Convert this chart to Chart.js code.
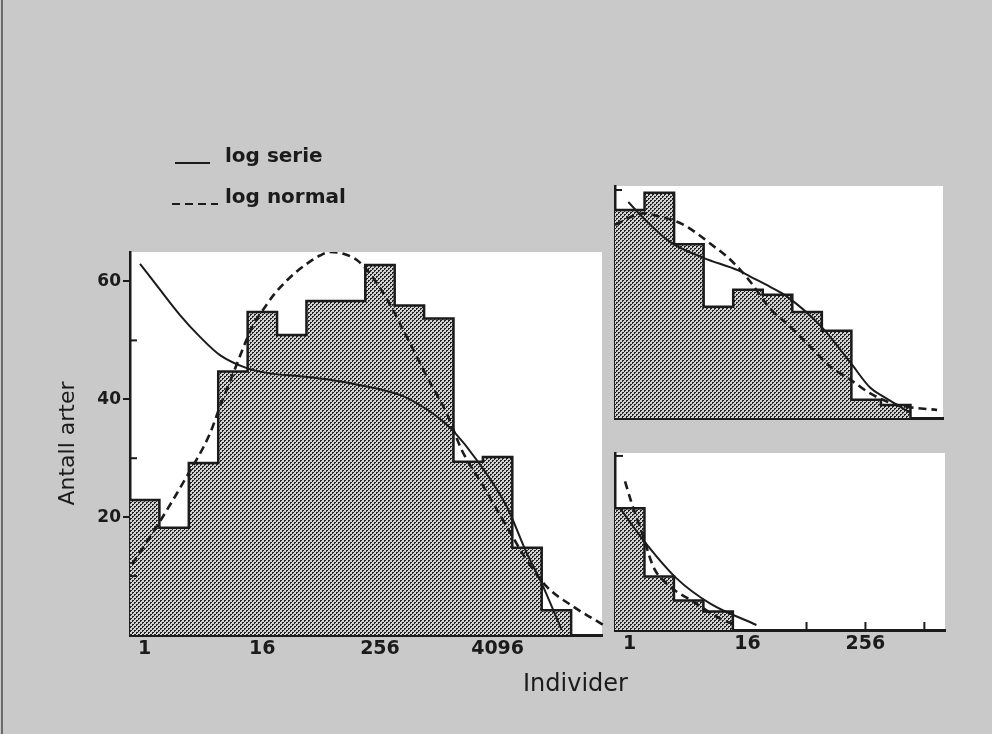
<!DOCTYPE html>
<html>
<head>
<meta charset="utf-8">
<script src="https://cdn.jsdelivr.net/npm/chart.js@4.4.1/dist/chart.umd.min.js"></script>
<style>
  html, body { margin: 0; padding: 0; width: 992px; height: 734px; overflow: hidden; background: #c9c9c9; }
  #wrap { position: relative; width: 992px; height: 734px; }
  canvas { position: absolute; }
  #edge { position: absolute; left: 1px; top: 0; width: 2px; height: 734px; background: #6a6a6a; }
</style>
</head>
<body>
<div id="wrap">
  <div id="edge"></div>
  <canvas id="main" width="992" height="734" style="left:0;top:0"></canvas>
  <canvas id="topRight" width="432" height="300" style="left:560px;top:150px"></canvas>
  <canvas id="bottomRight" width="432" height="304" style="left:560px;top:430px"></canvas>
</div>
<script>
// ---------------- DATA ----------------
// Octave classes (log2 of number of individuals); bin i covers [i, i+1)
const mainBins = [22.9, 18.2, 29.2, 44.7, 54.8, 50.9, 56.7, 56.7, 62.8, 55.9, 53.7, 29.4, 30.2, 14.8, 4.2];
const mainSerieX = [0.34, 1.02, 1.7, 2.38, 3.06, 3.97, 4.76, 5.78, 6.8, 7.82, 8.5, 9.2, 9.8, 10.3, 10.7, 11.0, 11.79, 12.81, 13.49, 13.95, 14.68];
const mainSerieY = [63, 58.6, 54.3, 50.6, 47.5, 45.3, 44.4, 43.9, 43.3, 42.4, 41.7, 40.7, 39.2, 37.6, 36.0, 34.6, 29.7, 21.8, 13.9, 9.3, 0.85];
const mainNormX = [0.07, 0.92, 1.94, 2.72, 3.06, 3.4, 3.98, 4.19, 4.61, 4.9, 5.3, 5.67, 6.07, 6.46, 6.8, 7.26, 7.82, 8.62, 9.41, 10.09, 10.77, 11.28, 12.02, 12.81, 13.49, 14.17, 15.08, 16.2];
const mainNormY = [12, 18.5, 27, 34.2, 38.8, 43, 50.3, 52.6, 55.8, 57.8, 60.0, 61.7, 63.2, 64.4, 65.0, 64.7, 63.2, 58, 50.6, 43.9, 37.6, 31.4, 25.2, 18.4, 12.7, 8.2, 4.8, 1.4];

const topBins = [36.5, 39.5, 30.5, 19.5, 22.5, 21.6, 18.6, 15.3, 3.2, 2.3];
const topSerieX = [0.45, 0.92, 1.86, 2.99, 4.17, 4.58, 5.25, 5.82, 6.95, 7.97, 8.64, 9.1, 10.0];
const topSerieY = [37.9, 35.3, 30.9, 28.1, 25.9, 24.8, 23, 21.3, 16.2, 9.7, 5.3, 3.7, 0.9];
const topNormX = [0, 0.96, 1.3, 2.2, 2.77, 3.22, 3.79, 4.24, 4.58, 5.25, 5.93, 6.61, 7.29, 7.97, 8.64, 9.55, 10.9];
const topNormY = [33.9, 35.9, 35.6, 34.2, 32.4, 30.6, 28.3, 26, 23.9, 19.2, 16, 12.5, 9, 6.7, 4.3, 2.3, 1.4];

const botBins = [21.0, 9.2, 5.1, 3.2];
const botSerieX = [0.17, 0.96, 2.09, 3.22, 4.8];
const botSerieY = [21, 15.5, 8.9, 4.6, 0.86];
const botNormX = [0.34, 0.57, 0.96, 1.3, 1.75, 2.65, 3.67, 4.12];
const botNormY = [25.6, 21.8, 16.1, 10.9, 8.0, 4.9, 1.7, 0.9];

// Tick labels (placed at class centres)
const mainXTickPos = [0.5, 4.5, 8.5, 12.5];
const mainXTickLabels = ['1', '16', '256', '4096'];
const mainYTicks = [20, 40, 60];
const mainMinorYTicks = [10, 30, 50];
const botXTickPos = [0.5, 4.5, 8.5];
const botXTickLabels = ['1', '16', '256'];
const botInnerXTicks = [6.5, 8.5, 10.5];
const topInnerYTicks = [40];
const botInnerYTicks = [30];

const xTitle = 'Individer';
const yTitle = 'Antall arter';
const serieLabel = 'log serie';
const normalLabel = 'log normal';

// ---------------- HELPERS ----------------
const INK = '#1b1b1b';
const FONT = '"DejaVu Sans", "Liberation Sans", sans-serif';

function stipple() {
  const c = document.createElement('canvas');
  c.width = 4; c.height = 4;
  const g = c.getContext('2d');
  g.fillStyle = '#d2d2d2'; g.fillRect(0, 0, 4, 4);
  g.fillStyle = '#232323';
  g.fillRect(0, 0, 2, 1); g.fillRect(0, 1, 1, 1);
  g.fillRect(2, 2, 2, 1); g.fillRect(2, 3, 1, 1);
  return g.createPattern(c, 'repeat');
}
function steps(bins) {
  const pts = bins.map((v, i) => ({ x: i, y: v }));
  pts.push({ x: bins.length, y: 0 });
  return pts;
}
function xy(xs, ys) { return xs.map((x, i) => ({ x: x, y: ys[i] })); }

function datasets(bins, sx, sy, nx, ny, lw) {
  return [
    { label: 'Antall arter', data: steps(bins), stepped: true, fill: 'origin',
      backgroundColor: stipple(), borderColor: INK, borderWidth: lw, pointRadius: 0, order: 3 },
    { label: serieLabel, data: xy(sx, sy), borderColor: INK, borderWidth: 2, pointRadius: 0,
      cubicInterpolationMode: 'monotone', fill: false, order: 1 },
    { label: normalLabel, data: xy(nx, ny), borderColor: INK, borderWidth: 2.6, borderDash: [8, 5],
      pointRadius: 0, cubicInterpolationMode: 'monotone', fill: false, order: 2,
      clip: { left: 0, top: 0, right: 6, bottom: 0 } }
  ];
}

const whiteArea = {
  id: 'whiteArea',
  beforeDraw(chart) {
    const { ctx, chartArea: a } = chart;
    ctx.save();
    ctx.fillStyle = '#ffffff';
    ctx.fillRect(a.left, a.top, a.right - a.left, a.bottom - a.top);
    ctx.restore();
  }
};
const innerTicks = {
  id: 'innerTicks',
  afterDraw(chart, args, o) {
    const { ctx, chartArea: a, scales } = chart;
    ctx.save();
    ctx.strokeStyle = INK; ctx.lineWidth = 2;
    (o.x || []).forEach(v => {
      const px = scales.x.getPixelForValue(v);
      ctx.beginPath(); ctx.moveTo(px, a.bottom); ctx.lineTo(px, a.bottom - o.len); ctx.stroke();
    });
    (o.y || []).forEach(v => {
      const py = scales.y.getPixelForValue(v);
      ctx.beginPath(); ctx.moveTo(a.left, py); ctx.lineTo(a.left + o.len, py); ctx.stroke();
    });
    ctx.restore();
  }
};
const pageText = {
  id: 'pageText',
  afterDraw(chart, args, o) {
    const ctx = chart.ctx;
    ctx.save();
    ctx.fillStyle = INK; ctx.strokeStyle = INK;
    ctx.textBaseline = 'alphabetic';
    ctx.font = 'bold 20px ' + FONT;
    [1, 2].forEach((di, i) => {
      const ds = chart.data.datasets[di];
      const y = o.legendY[i];
      ctx.lineWidth = 2;
      ctx.setLineDash(ds.borderDash || []);
      ctx.beginPath(); ctx.moveTo(o.lineX0[i], y + 1); ctx.lineTo(o.lineX1[i], y + 1); ctx.stroke();
      ctx.setLineDash([]);
      ctx.fillText(ds.label, o.textX, y);
    });
    ctx.font = '24px ' + FONT;
    ctx.fillText(xTitle, o.xTitleX, o.xTitleY);
    ctx.restore();
  }
};

const tickFont = { family: FONT, weight: 'bold', size: 19 };

// ---------------- MAIN CHART ----------------
new Chart(document.getElementById('main'), {
  type: 'line',
  data: { datasets: datasets(mainBins, mainSerieX, mainSerieY, mainNormX, mainNormY, 2.5) },
  options: {
    responsive: false, animation: false,
    layout: { padding: { left: 55, top: 252, right: 390, bottom: 59 } },
    plugins: {
      legend: { display: false }, tooltip: { enabled: false },
      innerTicks: { len: 7, y: mainMinorYTicks },
      pageText: { legendY: [162, 203], lineX0: [175, 172], lineX1: [210, 218], textX: 225, xTitleX: 523, xTitleY: 691 }
    },
    scales: {
      x: {
        type: 'linear', min: 0, max: 16.05, z: 1,
        afterBuildTicks: s => { s.ticks = mainXTickPos.map(v => ({ value: v })); },
        afterFit: s => { s.height = 40; },
        ticks: { callback: (v, i) => mainXTickLabels[i], font: tickFont, color: INK, padding: 3, autoSkip: false, maxRotation: 0 },
        grid: { display: false, drawTicks: false },
        border: { display: true, color: INK, width: 3 }
      },
      y: {
        type: 'linear', min: 0, max: 65, z: 1,
        afterBuildTicks: s => { s.ticks = mainYTicks.map(v => ({ value: v })); },
        afterFit: s => { s.width = 75; },
        ticks: { font: { family: FONT, weight: 'bold', size: 17 }, color: INK, padding: 2 },
        grid: { drawOnChartArea: false, drawTicks: true, tickLength: 7, color: INK, lineWidth: 2 },
        border: { display: true, color: INK, width: 2.5 },
        title: { display: true, text: yTitle, font: { family: FONT, size: 22 }, color: INK, padding: 0 }
      }
    }
  },
  plugins: [whiteArea, innerTicks, pageText]
});

// ---------------- TOP RIGHT ----------------
new Chart(document.getElementById('topRight'), {
  type: 'line',
  data: { datasets: datasets(topBins, topSerieX, topSerieY, topNormX, topNormY, 2.5) },
  options: {
    responsive: false, animation: false,
    layout: { padding: { left: 55, top: 36, right: 49, bottom: 32 } },
    plugins: { legend: { display: false }, tooltip: { enabled: false }, innerTicks: { len: 7, y: topInnerYTicks } },
    scales: {
      x: {
        type: 'linear', min: 0, max: 11.1, z: 1,
        afterFit: s => { s.height = 0; },
        ticks: { display: false }, grid: { display: false, drawTicks: false },
        border: { display: true, color: INK, width: 3 }
      },
      y: {
        type: 'linear', min: 0, max: 40.7, z: 1,
        afterFit: s => { s.width = 0; },
        ticks: { display: false }, grid: { display: false, drawTicks: false },
        border: { display: true, color: INK, width: 2.5 }
      }
    }
  },
  plugins: [whiteArea, innerTicks]
});

// ---------------- BOTTOM RIGHT ----------------
new Chart(document.getElementById('bottomRight'), {
  type: 'line',
  data: { datasets: datasets(botBins, botSerieX, botSerieY, botNormX, botNormY, 2.5) },
  options: {
    responsive: false, animation: false,
    layout: { padding: { left: 55, top: 23, right: 47, bottom: 64 } },
    plugins: { legend: { display: false }, tooltip: { enabled: false }, innerTicks: { len: 8, x: botInnerXTicks, y: botInnerYTicks } },
    scales: {
      x: {
        type: 'linear', min: 0, max: 11.2, z: 1,
        afterBuildTicks: s => { s.ticks = botXTickPos.map(v => ({ value: v })); },
        afterFit: s => { s.height = 40; },
        ticks: { callback: (v, i) => botXTickLabels[i], font: tickFont, color: INK, padding: 3, autoSkip: false, maxRotation: 0 },
        grid: { display: false, drawTicks: false },
        border: { display: true, color: INK, width: 3 }
      },
      y: {
        type: 'linear', min: 0, max: 30.5, z: 1,
        afterFit: s => { s.width = 0; },
        ticks: { display: false }, grid: { display: false, drawTicks: false },
        border: { display: true, color: INK, width: 2.5 }
      }
    }
  },
  plugins: [whiteArea, innerTicks]
});
</script>
</body>
</html>
